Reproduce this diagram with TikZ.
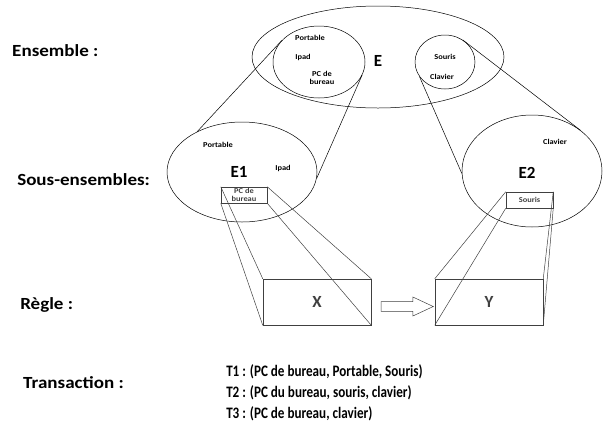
\documentclass[tikz,border=0pt]{standalone}
\usepackage{fontspec}
\setmainfont{Carlito}
\newfontfamily\labfont[FakeStretch=1.12]{Carlito}
\newfontfamily\transfont[FakeStretch=0.82]{Carlito}
\usetikzlibrary{shapes.geometric, shapes.arrows}

\begin{document}
\begin{tikzpicture}[x=1pt, y=-1pt, line width=0.5pt,
    set/.style={draw, ellipse, inner sep=0pt},
    face/.style={draw, black!75, inner sep=0pt},
    tiny/.style={font=\labfont\bfseries\fontsize{7.5}{8}\selectfont, align=center, inner sep=0pt},
    big/.style={font=\bfseries\fontsize{17}{19}\selectfont, inner sep=0pt},
    lbl/.style={font=\labfont\bfseries\fontsize{17}{21}\selectfont, anchor=west, inner sep=0pt},
    tlist/.style={font=\transfont\bfseries\fontsize{16}{21}\selectfont, anchor=west, inner sep=0pt, align=left}]
  \useasboundingbox (0,0) rectangle (603,445);
  % ensemble E
  \node[set, minimum width=252, minimum height=102] (E) at (378,57) {};
  \node[set, minimum width=92, minimum height=72] (Ea) at (319,62) {};
  \node[set, minimum width=60, minimum height=54] (Eb) at (445,62) {};
  \node[big] (labE) at (378,61) {E};
  \node[tiny] (pA) at (310,38) {Portable};
  \node[tiny] (iA) at (303,57) {Ipad};
  \node[tiny] (cA) at (322,78) {PC de\\bureau};
  \node[tiny] (sA) at (445,57) {Souris};
  \node[tiny] (kA) at (442,77) {Clavier};
  % sous-ensembles
  \node[set, minimum width=150, minimum height=100] (E1) at (242,172) {};
  \node[set, minimum width=140, minimum height=112] (E2) at (532,171) {};
  \node[big] (labE1) at (239,172) {E1};
  \node[big] (labE2) at (527,173) {E2};
  \node[tiny] (pB) at (218,145) {Portable};
  \node[tiny] (iB) at (283,168) {Ipad};
  \node[tiny] (kB) at (555,142) {Clavier};
  \node[face, tiny, minimum width=46, minimum height=16] (boxPC) at (244,195) {PC de\\bureau};
  \node[face, tiny, minimum width=47, minimum height=16] (boxS) at (529.5,200) {Souris};
  \draw (Ea.150) -- (E1.138);
  \draw (Ea.-17) -- (E1.-5);
  \draw (Eb.210) -- (E2.182);
  \draw (Eb.51) -- (E2.40);
  % regle
  \node[face, big, minimum width=108, minimum height=46] (boxX) at (317,302) {X};
  \node[face, big, minimum width=108, minimum height=46] (boxY) at (489,302) {Y};
  \foreach \c in {north west, south west, north east, south east} {
    \draw[black!75] (boxPC.\c) -- (boxX.\c);
    \draw[black!75] (boxS.\c) -- (boxY.\c);
  }
  \node[single arrow, draw, black!75, minimum height=52, minimum width=19,
    inner sep=4.5pt, single arrow head extend=4.5pt, single arrow tip angle=50]
    (rule) at (402,306.5) {};
  % libelles
  \node[lbl] (tEns) at (12,51) {Ensemble :};
  \node[lbl] (tSous) at (17,180) {Sous-ensembles:};
  \node[lbl] (tRegle) at (20,305) {Règle :};
  \node[lbl] (tTrans) at (23,383) {Transaction :};
  \node[tlist] (trans) at (226,393) {T1 : (PC de bureau, Portable, Souris)\\
    T2 : (PC du bureau, souris, clavier)\\
    T3 : (PC de bureau, clavier)};
\end{tikzpicture}
\end{document}
